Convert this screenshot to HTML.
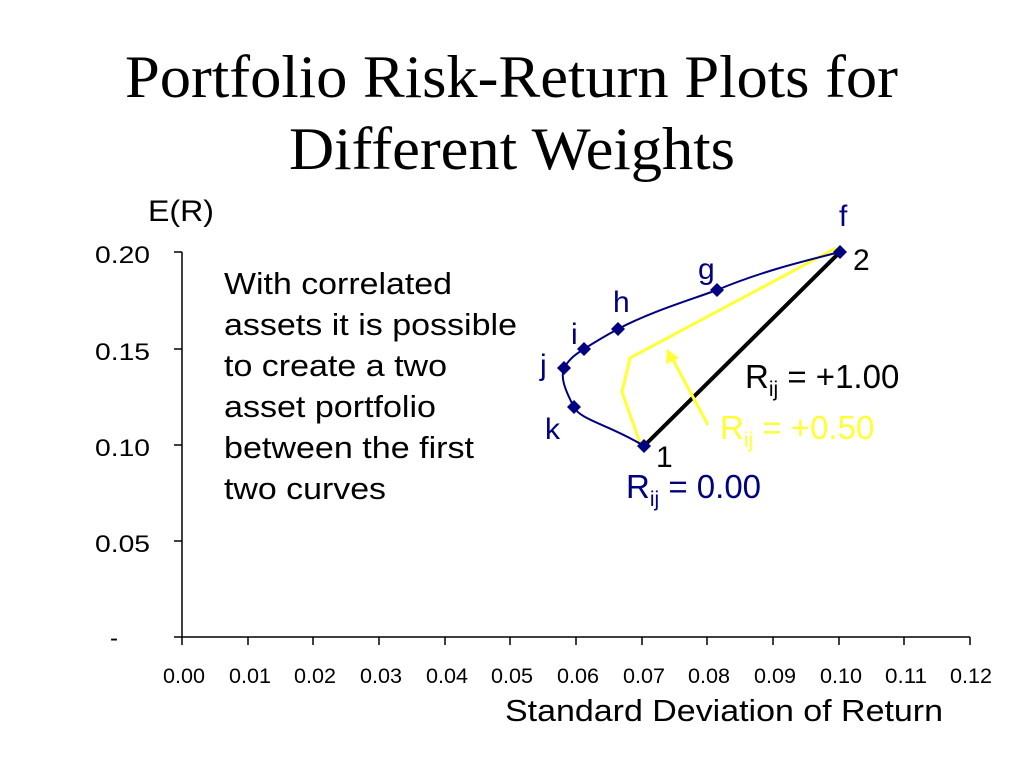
<!DOCTYPE html>
<html><head><style>
body{margin:0;width:1024px;height:768px;background:#fff;overflow:hidden;}
</style></head><body>
<svg width="1024" height="768" style="position:absolute;left:0;top:0" font-family="Liberation Sans, sans-serif">
<g font-family="Liberation Serif, serif" font-size="60">
<text x="125" y="97" textLength="773" lengthAdjust="spacingAndGlyphs">Portfolio Risk-Return Plots for</text>
<text x="289" y="169" textLength="446" lengthAdjust="spacingAndGlyphs">Different Weights</text>
</g>
<g stroke="#000" stroke-width="1.5" fill="none">
<line x1="182" y1="252" x2="182" y2="637"/>
<line x1="182" y1="637" x2="970" y2="637"/>
<line x1="174" y1="252" x2="182" y2="252"/><line x1="174" y1="349" x2="182" y2="349"/>
<line x1="174" y1="445" x2="182" y2="445"/><line x1="174" y1="541" x2="182" y2="541"/>
<line x1="174" y1="637" x2="182" y2="637"/>
<line x1="182" y1="637" x2="182" y2="645"/><line x1="248" y1="637" x2="248" y2="645"/><line x1="313" y1="637" x2="313" y2="645"/><line x1="379" y1="637" x2="379" y2="645"/><line x1="445" y1="637" x2="445" y2="645"/><line x1="510" y1="637" x2="510" y2="645"/><line x1="576" y1="637" x2="576" y2="645"/><line x1="642" y1="637" x2="642" y2="645"/><line x1="707" y1="637" x2="707" y2="645"/><line x1="773" y1="637" x2="773" y2="645"/><line x1="839" y1="637" x2="839" y2="645"/><line x1="904" y1="637" x2="904" y2="645"/><line x1="970" y1="637" x2="970" y2="645"/>
</g>
<g font-size="24">
<text x="95" y="263" textLength="55" lengthAdjust="spacingAndGlyphs">0.20</text>
<text x="95" y="360" textLength="55" lengthAdjust="spacingAndGlyphs">0.15</text>
<text x="95" y="456" textLength="55" lengthAdjust="spacingAndGlyphs">0.10</text>
<text x="95" y="552" textLength="55" lengthAdjust="spacingAndGlyphs">0.05</text>
<text x="110" y="646">-</text>
</g>
<g font-size="21">
<text x="163" y="683" textLength="42" lengthAdjust="spacingAndGlyphs">0.00</text>
<text x="229" y="683" textLength="42" lengthAdjust="spacingAndGlyphs">0.01</text>
<text x="294" y="683" textLength="42" lengthAdjust="spacingAndGlyphs">0.02</text>
<text x="360" y="683" textLength="42" lengthAdjust="spacingAndGlyphs">0.03</text>
<text x="426" y="683" textLength="42" lengthAdjust="spacingAndGlyphs">0.04</text>
<text x="491" y="683" textLength="42" lengthAdjust="spacingAndGlyphs">0.05</text>
<text x="557" y="683" textLength="42" lengthAdjust="spacingAndGlyphs">0.06</text>
<text x="623" y="683" textLength="42" lengthAdjust="spacingAndGlyphs">0.07</text>
<text x="688" y="683" textLength="42" lengthAdjust="spacingAndGlyphs">0.08</text>
<text x="754" y="683" textLength="42" lengthAdjust="spacingAndGlyphs">0.09</text>
<text x="820" y="683" textLength="42" lengthAdjust="spacingAndGlyphs">0.10</text>
<text x="885" y="683" textLength="42" lengthAdjust="spacingAndGlyphs">0.11</text>
<text x="950" y="683" textLength="42" lengthAdjust="spacingAndGlyphs">0.12</text>
</g>
<text x="505" y="721" font-size="31" textLength="438" lengthAdjust="spacingAndGlyphs">Standard Deviation of Return</text>
<text x="148" y="221" font-size="30" textLength="66" lengthAdjust="spacingAndGlyphs">E(R)</text>
<g font-size="31">
<text x="224" y="294" textLength="228" lengthAdjust="spacingAndGlyphs">With correlated</text>
<text x="224" y="335" textLength="293" lengthAdjust="spacingAndGlyphs">assets it is possible</text>
<text x="224" y="376" textLength="223" lengthAdjust="spacingAndGlyphs">to create a two</text>
<text x="224" y="417" textLength="212" lengthAdjust="spacingAndGlyphs">asset portfolio</text>
<text x="224" y="458" textLength="250" lengthAdjust="spacingAndGlyphs">between the first</text>
<text x="224" y="499" textLength="162" lengthAdjust="spacingAndGlyphs">two curves</text>
</g>
<line x1="644" y1="446" x2="840" y2="252" stroke="#000" stroke-width="4"/>
<polyline points="836,248 630,358 622,392 640,443" fill="none" stroke="#ffff33" stroke-width="3"/>
<line x1="708" y1="425" x2="672" y2="358" stroke="#ffff33" stroke-width="3"/>
<polygon points="667,349 666,364 679,358" fill="#ffff33"/>
<path d="M644,446 C610,425 580,420 574,407 C566,392 560,378 564,368 C570,358 576,354 584,349 C595,342 605,336 618,329 C650,312 690,300 717,290 C760,272 800,262 840,252" fill="none" stroke="#000080" stroke-width="2"/>
<g fill="#000080">
<path d="M840,245l7,7l-7,7l-7-7z"/><path d="M717,283l7,7l-7,7l-7-7z"/><path d="M618,322l7,7l-7,7l-7-7z"/><path d="M584,342l7,7l-7,7l-7-7z"/><path d="M564,361l7,7l-7,7l-7-7z"/><path d="M574,400l7,7l-7,7l-7-7z"/><path d="M644,439l7,7l-7,7l-7-7z"/>
</g>
<g font-size="30" fill="#000080">
<text x="839" y="226">f</text><text x="698" y="279">g</text><text x="613" y="312">h</text><text x="571" y="344">i</text><text x="540" y="375">j</text><text x="545" y="439">k</text>
</g>
<text x="626" y="498" font-size="33" fill="#000080">R<tspan font-size="21" dy="8">ij</tspan><tspan dy="-8"> = 0.00</tspan></text>
<g font-size="30" fill="#000">
<text x="853" y="270">2</text><text x="656" y="467">1</text>
</g>
<text x="745" y="388" font-size="33" fill="#000">R<tspan font-size="21" dy="8">ij</tspan><tspan dy="-8"> = +1.00</tspan></text>
<text x="720" y="439" font-size="33" fill="#ffff33">R<tspan font-size="21" dy="8">ij</tspan><tspan dy="-8"> = +0.50</tspan></text>
</svg>
</body></html>
